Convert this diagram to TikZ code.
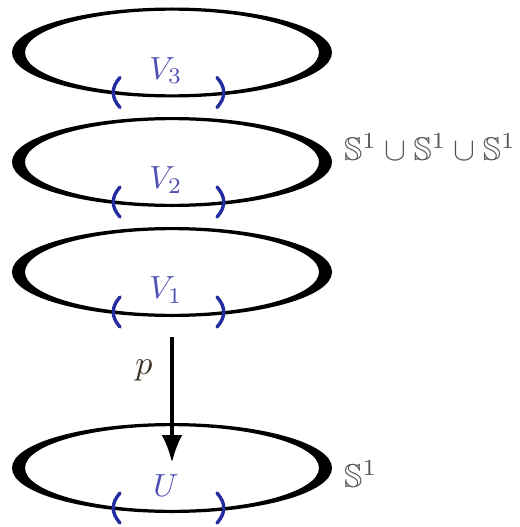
\documentclass[tikz,border=0pt]{standalone}
\usepackage{amssymb}
\usepackage{graphicx}
\usetikzlibrary{arrows.meta}
\definecolor{brblue}{RGB}{35,45,160}
\definecolor{lblblue}{RGB}{80,80,180}
\definecolor{sgrey}{RGB}{85,85,85}
\definecolor{pcol}{RGB}{60,52,40}
\newcommand{\scmath}[2]{\scalebox{#1}{$#2$}}
\begin{document}
\begin{tikzpicture}[x=1pt,y=-1pt,
  ring/.style={fill=black,even odd rule},
  brk/.style={draw=brblue,line width=3.4pt,line cap=round},
  vlabel/.style={text=lblblue,inner sep=0pt},
  slabel/.style={text=sgrey,inner sep=0pt,anchor=west},
  maparrow/.style={line width=4.5pt,-{Latex[length=28pt,width=21pt]}}]
\useasboundingbox (0,0) rectangle (519,527);
\foreach \c/\lab/\nm in {52.5/V_3/v3,162/V_2/v2,272/V_1/v1,468/U/u}{
  \fill[ring] (172,\c) ellipse [x radius=160,y radius=45]
              (172,\c) ellipse [x radius=147,y radius=41.8];
  \pgfmathsetmacro{\ya}{\c+25}
  \pgfmathsetmacro{\yb}{\c+35}
  \pgfmathsetmacro{\yc}{\c+45}
  \pgfmathsetmacro{\yd}{\c+55}
  \draw[brk] (120,\ya) .. controls (111,\yb) and (111,\yc) .. (120,\yd);
  \draw[brk] (217,\ya) .. controls (226,\yb) and (226,\yc) .. (217,\yd);
  \pgfmathsetmacro{\yl}{\c+18}
  \node[vlabel] (\nm) at (166,\yl) {\scmath{3.2}{\lab}};
}
\node[slabel] (cover) at (344,147) {\scmath{3.28}{\mathbb{S}^1\cup\mathbb{S}^1\cup\mathbb{S}^1}};
\node[slabel] (base) at (344,474) {\scmath{3.3}{\mathbb{S}^1}};
\coordinate (atop) at (172,337);
\coordinate (abot) at (172,463);
\draw[maparrow] (atop) -- (abot);
\node[text=pcol,inner sep=0pt] (p) at (144,370) {\scmath{3.4}{p}};
\end{tikzpicture}
\end{document}
